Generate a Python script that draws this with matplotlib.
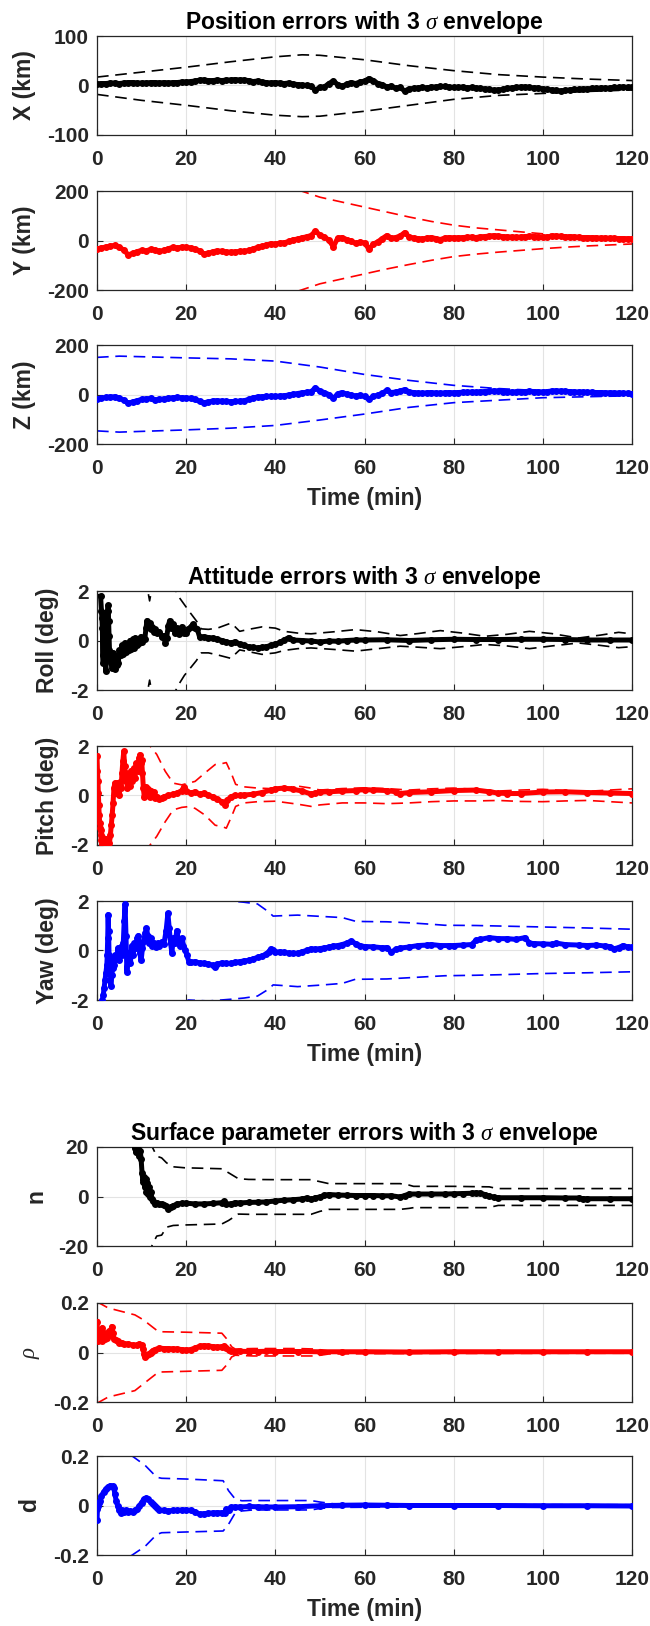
import matplotlib
matplotlib.use("Agg")
import matplotlib.pyplot as plt
from matplotlib.ticker import FormatStrFormatter

plt.rcParams['font.family'] = ['Liberation Sans', 'DejaVu Sans']
plt.rcParams['font.weight'] = 'bold'
plt.rcParams['axes.labelweight'] = 'bold'
plt.rcParams['axes.unicode_minus'] = False
plt.rcParams['mathtext.fontset'] = 'custom'
plt.rcParams['mathtext.it'] = 'Liberation Serif:italic:normal'
plt.rcParams['mathtext.rm'] = 'Liberation Sans:normal'
plt.rcParams['mathtext.bf'] = 'Liberation Sans:bold'

# ---------------- position errors (km), one sample per minute ----------------
t_pos = list(range(0, 121))
x_err = [3, 4, 4, 5, 5, 4, 5, 6, 6, 5, 5,
         5, 6, 6, 5, 6, 5, 6, 6, 7, 7,
         8, 9, 11, 11, 10, 10, 11, 10, 11, 11,
         12, 11, 11, 10, 8, 9, 7, 6, 5, 6,
         5, 4, 5, 3, 2, 1, 0, -2, -9, -4,
         -3, 4, 9, 2, -2, 3, 6, 4, 7, 9,
         14, 10, 4, 2, -3, -1, -6, -4, -11, -7,
         -6, -5, -4, -5, -3, -3, -2, -2, -3, -4,
         -4, -3, -5, -4, -5, -6, -7, -8, -10, -9,
         -8, -6, -5, -4, -3, -3, -4, -5, -5, -7,
         -8, -9, -10, -11, -10, -9, -8, -8, -7, -7,
         -6, -6, -5, -6, -5, -4, -4, -3, -4, -3]
y_err = [-34, -30, -26, -22, -20, -28, -38, -58, -52, -45, -40,
         -42, -36, -38, -44, -40, -33, -28, -30, -27, -27,
         -30, -35, -42, -54, -52, -45, -42, -44, -46, -47,
         -46, -44, -44, -40, -34, -28, -24, -18, -13, -15,
         -10, -9, -4, 3, 6, 11, 15, 20, 38, 22,
         14, 2, -25, 10, 12, 4, -2, -12, -6, -10,
         -34, -15, -5, 8, 20, 10, 12, 18, 32, 15,
         10, 8, 6, 10, 12, 8, 4, 10, 12, 11,
         11, 12, 13, 14, 12, 15, 16, 18, 20, 18,
         16, 15, 14, 13, 14, 16, 17, 16, 15, 14,
         15, 17, 18, 17, 16, 15, 14, 13, 12, 12,
         11, 11, 10, 10, 9, 9, 8, 8, 7, 7]
z_err = [-20, -15, -12, -10, -9, -14, -23, -35, -30, -25, -20,
         -18, -16, -23, -20, -18, -15, -13, -12, -13, -14,
         -16, -20, -28, -33, -30, -26, -25, -27, -28, -29,
         -28, -27, -25, -20, -14, -10, -9, -8, -7, -8,
         -6, -5, -2, 1, 4, 7, 9, 11, 27, 14,
         8, 0, -16, 3, 8, 2, -2, -6, -4, -8,
         -20, -8, -2, 5, 17, 8, 10, 14, 20, 10,
         8, 6, 5, 7, 8, 6, 5, 7, 8, 7,
         8, 9, 9, 10, 9, 11, 12, 13, 15, 13,
         12, 11, 10, 10, 11, 12, 13, 12, 11, 10,
         12, 14, 15, 14, 13, 12, 11, 10, 10, 9,
         9, 8, 8, 7, 7, 6, 6, 5, 5, 4]

x_env_t = [0, 10, 20, 30, 40, 46, 50, 60, 70, 80, 90, 100, 110, 120]
x_env_up = [17, 27, 37, 48, 58, 62, 61, 52, 40, 30, 22, 17, 13, 10]
x_env_lo = [-18, -30, -40, -51, -60, -63, -62, -52, -40, -28, -20, -16, -12, -9]

y_env_t = [45, 50, 55, 60, 65, 70, 75, 80, 85, 90, 95, 100, 105, 110, 115, 120]
y_env_up = [205, 175, 155, 135, 115, 95, 77, 62, 51, 43, 35, 27, 22, 18, 15, 12]
y_env_lo = [-205, -175, -155, -135, -115, -97, -80, -65, -55, -47, -40, -33, -27, -22, -18, -14]

z_env_t = [0, 5, 20, 30, 40, 50, 60, 70, 80, 90, 100, 110, 120]
z_env_up = [150, 155, 148, 144, 135, 111, 81, 57, 37, 24, 15, 11, 7]
z_env_lo = [-147, -152, -143, -136, -125, -103, -79, -52, -33, -23, -13, -9, -5]

# ---------------- attitude errors (deg) ----------------
roll_t = [0.8, 1.0, 1.1, 1.2, 1.3, 1.4, 1.5, 1.6, 1.7, 1.8, 2.0, 2.2, 2.4, 2.5, 2.6, 2.7,
          2.8, 3.0, 3.2, 3.4, 3.6, 3.8, 4.0, 4.2, 4.4, 4.6, 4.8, 5.0, 5.3, 5.6, 5.9, 6.2,
          6.5, 6.8, 7.1, 7.4, 7.7, 8.0, 8.3, 8.6, 8.9, 9.2, 9.5, 9.8, 10.1, 10.4, 10.7,
          11.0, 11.2, 11.5, 11.8, 12.1, 12.4, 12.7, 13.0, 13.5, 14.0, 14.5, 15.0, 15.3,
          15.6, 16.0, 16.3, 16.6, 17.0, 17.5, 18.0, 18.5, 19.0, 19.5, 20.0, 20.5, 21.0,
          21.5, 22.0, 22.5, 23, 24, 25, 26, 27, 28, 29, 30, 31, 32, 33, 34, 35, 36, 37,
          38, 39, 40, 41, 42, 43, 44, 46, 48, 50, 52, 54, 56, 58, 60, 65, 70, 75, 80, 85,
          90, 95, 100, 105, 110, 115, 120]
roll_err = [1.79, 1.2, 0.9, 0.5, -0.6, -0.9, 1.1, 0.7, -0.3, -0.8, -1.25, 0.3, 1.2, 1.42, 0.8, 0.2,
            -0.4, -0.7, -0.9, -1.1, -0.5, -0.8, -1.15, -0.7, -1.0, -0.6, -0.9, -0.4, -0.6, -0.2, -0.55, -0.1,
            -0.45, -0.15, -0.4, 0.0, -0.35, 0.05, -0.3, 0.1, -0.2, 0.05, -0.1, 0.15, -0.05, 0.1, 0.05,
            0.5, 0.8, 0.55, 0.7, 0.45, 0.55, 0.35, 0.45, 0.3, 0.35, 0.15, 0.2, -0.1,
            0.1, 0.6, 0.8, 0.5, 0.65, 0.3, 0.5, 0.25, 0.55, 0.3, 0.3, 0.45, 0.55,
            0.65, 0.5, 0.45, 0.15, 0.15, 0.12, 0.1, 0.05, 0.0, -0.05, -0.1, -0.05, -0.15, -0.2, -0.25, -0.28, -0.3, -0.28,
            -0.25, -0.2, -0.15, -0.08, 0.02, 0.12, 0.02, 0.0, -0.02, -0.06, -0.02, -0.03, 0.0, 0.02, 0.02, 0.03, 0.0, 0.03, 0.05, 0.04,
            0.04, 0.05, 0.05, 0.04, 0.02, 0.02, 0.02]
roll_env_t = [10.8, 11.8, 12.8, 14.5, 17.7, 18.6, 19.6, 21.0, 22.3, 23.4, 25, 27, 28.5, 30, 31, 32,
              34, 37, 40, 42, 45, 48, 53, 58, 63, 68, 72, 77, 82, 87, 92, 97, 102, 108, 113, 117, 120]
roll_env_up = [2.6, 1.6, 2.6, 2.8, 2.0, 1.7, 1.45, 1.1, 0.79, 0.47, 0.45, 0.5, 0.6, 0.7, 0.55, 0.37,
               0.45, 0.55, 0.5, 0.37, 0.3, 0.27, 0.35, 0.44, 0.35, 0.2, 0.28, 0.4, 0.3, 0.17, 0.25, 0.37, 0.28, 0.1, 0.22, 0.33, 0.27]
roll_env_lo = [-2.6, -1.6, -2.6, -2.8, -2.0, -1.7, -1.41, -1.1, -0.81, -0.5, -0.5, -0.58, -0.65, -0.72, -0.55, -0.38,
               -0.45, -0.56, -0.5, -0.4, -0.33, -0.3, -0.36, -0.43, -0.33, -0.23, -0.27, -0.33, -0.25, -0.16, -0.22, -0.33, -0.22, -0.1, -0.2, -0.29, -0.25]

pitch_t = [0.0, 0.1, 0.2, 0.3, 0.4, 0.5, 0.6, 0.7, 0.8, 0.9, 1.0, 1.2, 1.4, 1.6, 1.8, 2.0, 2.2, 2.5,
           2.8, 3.0, 3.2, 3.4, 3.6, 3.8, 4.0, 4.2, 4.4, 4.6, 4.8, 5.0, 5.2, 5.4, 5.6, 5.8, 6.0, 6.2,
           6.4, 6.6, 6.8, 7.0, 7.3, 7.6, 7.9, 8.2, 8.5, 8.8, 9.1, 9.4, 9.6, 9.8, 10.0, 10.2, 10.4,
           10.6, 10.8, 11.0, 11.2, 11.5, 11.8, 12.1, 12.4, 12.7, 13.0, 13.5, 14, 14.5, 15, 16, 17,
           18, 19, 19.5, 20, 21, 22, 23, 24, 25, 26, 27, 28, 28.8, 29.2, 30, 31, 32, 33, 35, 37,
           39, 40, 42, 44, 46, 48, 49, 50, 52, 55, 58, 60, 62, 65, 67, 68, 70, 75, 80, 85, 88, 90,
           92, 95, 100, 105, 110, 115, 120]
pitch_err = [1.6, 1.0, 0.6, 0.1, -0.4, -0.8, -1.1, -1.3, -1.4, -1.6, -1.8, -1.95, -1.7, -1.85, -2.0, -1.75, -1.9, -2.05,
             -1.9, -1.6, -1.2, -0.8, -0.3, 0.3, 0.5, 0.1, 0.5, 0.2, 0.45, 0.0, 0.55, 0.3, 0.9, 1.4, 1.78, 1.2,
             0.6, 0.9, 0.3, 0.8, 0.4, 1.0, 0.6, 1.1, 0.7, 1.3, 1.0, 1.5, 1.65, 1.3, 1.45, 0.9, 0.3,
             -0.05, 0.2, 0.35, 0.0, 0.25, -0.05, 0.2, 0.0, 0.15, -0.1, -0.05, -0.15, -0.12, -0.05, 0.0, 0.05,
             0.1, 0.2, 0.35, 0.2, 0.1, 0.15, 0.05, 0.1, 0.0, -0.05, -0.15, -0.25, -0.4, -0.2, -0.05, 0.0, 0.0, 0.02, 0.05, 0.12,
             0.22, 0.27, 0.3, 0.25, 0.18, 0.06, 0.1, 0.14, 0.15, 0.18, 0.2, 0.24, 0.22, 0.2, 0.15, 0.08, 0.12, 0.15, 0.2, 0.22, 0.15, 0.1,
             0.08, 0.08, 0.14, 0.15, 0.12, 0.1, 0.08]
pitch_env_t = [11.5, 11.9, 13.4, 15.3, 17.1, 19.0, 20.5, 22.0, 24.2, 26.5, 28.3, 29.0, 30.2, 31.1, 33, 36,
               40, 45, 48, 50, 55, 60, 65, 70, 75, 80, 85, 90, 95, 100, 105, 110, 115, 120]
pitch_env_up = [2.4, 2.0, 1.66, 0.98, 0.5, 0.43, 0.5, 0.57, 0.91, 1.25, 1.3, 1.33, 0.86, 0.45, 0.35, 0.3,
                0.27, 0.38, 0.3, 0.22, 0.28, 0.31, 0.28, 0.22, 0.27, 0.3, 0.25, 0.18, 0.22, 0.25, 0.2, 0.17, 0.22, 0.27]
pitch_env_lo = [-2.4, -2.0, -1.65, -1.06, -0.58, -0.48, -0.45, -0.52, -0.79, -1.2, -1.27, -1.32, -0.84, -0.44, -0.3, -0.25,
                -0.23, -0.35, -0.44, -0.38, -0.3, -0.3, -0.33, -0.3, -0.25, -0.22, -0.22, -0.2, -0.24, -0.25, -0.22, -0.2, -0.25, -0.3]

yaw_t = [1.2, 1.4, 1.6, 1.8, 2.0, 2.2, 2.3, 2.4, 2.5, 2.6, 2.7, 2.9, 3.1, 3.3, 3.5, 3.7, 3.9, 4.1,
         4.4, 4.7, 5.0, 5.3, 5.6, 5.9, 6.1, 6.3, 6.5, 6.7, 6.9, 7.2, 7.5, 7.8, 8.1, 8.4, 8.7, 9.0,
         9.3, 9.6, 9.9, 10.2, 10.5, 10.8, 11.1, 11.4, 11.7, 12.0, 12.4, 12.8, 13.2, 13.6, 14.0,
         14.5, 15.0, 15.5, 15.9, 16.2, 16.5, 16.8, 17.1, 17.5, 17.9, 18.3, 18.7, 19.1, 19.4, 19.8,
         20.2, 20.6, 21, 22, 23, 24, 25, 26, 26.5, 27, 28, 29, 30, 31, 32, 33, 34, 35, 36, 37, 38,
         38.5, 39, 39.5, 40, 41, 42, 43, 44, 45, 46, 47, 48, 49, 50, 51, 52, 53, 54, 55, 56, 57,
         58, 59, 60, 62, 64, 65, 66, 67, 68, 70, 72, 74, 75, 77, 79, 80, 82, 84, 85, 86, 88, 90,
         92, 94, 96, 97, 98, 100, 102, 103, 105, 108, 110, 112, 114, 115, 116, 117, 118, 119, 120]
yaw_err = [-2.0, -1.8, -1.5, -1.2, -0.9, -0.6, -0.2, 0.5, 1.45, 0.8, -0.2, -0.3, -1.45, -1.0, -0.7, -0.4, -0.6, -0.2,
           -0.3, 0.1, -0.4, 0.15, -0.2, 0.3, 1.2, 1.86, 0.6, -0.85, -0.4, -0.1, -0.5, 0.2, -0.2, 0.3, 0.1, 0.5,
           0.6, -0.1, -0.4, 0.1, 0.4, 0.7, 0.9, 0.6, 0.3, 0.5, 0.2, 0.3, 0.15, 0.3, 0.2,
           0.35, 0.25, 0.8, 1.5, 0.9, 0.3, -0.1, 0.5, 0.3, 0.8, 0.4, 0.2, 0.5, 0.2, 0.0,
           -0.2, -0.45, -0.48, -0.45, -0.5, -0.52, -0.54, -0.6, -0.65, -0.55, -0.5, -0.52, -0.52, -0.48, -0.45, -0.42, -0.4, -0.34, -0.28, -0.22, -0.14,
           -0.05, 0.07, 0.0, -0.07, -0.05, -0.08, -0.1, -0.12, -0.11, -0.05, 0.0, 0.07, 0.05, 0.08, 0.1, 0.14, 0.18, 0.2, 0.24, 0.3, 0.38,
           0.28, 0.2, 0.16, 0.15, 0.11, 0.12, -0.07, 0.05, 0.1, 0.14, 0.2, 0.22, 0.24, 0.2, 0.2, 0.2, 0.22, 0.24, 0.41, 0.45, 0.52, 0.48,
           0.48, 0.45, 0.52, 0.3, 0.28, 0.27, 0.25, 0.3, 0.24, 0.22, 0.2, 0.22, 0.18, 0.16, 0.07, 0.12, 0.2, 0.15, 0.14]
yaw_env_t = [19.5, 20.5, 25, 30, 33, 36, 38.5, 39.5, 42, 45, 50, 55, 58, 60, 65, 70, 75, 78, 85, 90, 100, 110, 120]
yaw_env_up = [2.1, 2.0, 2.02, 2.0, 1.95, 1.88, 1.56, 1.39, 1.41, 1.43, 1.38, 1.33, 1.18, 1.17, 1.16, 1.12, 1.06, 1.02, 1.01, 0.99, 0.95, 0.91, 0.86]
yaw_env_lo = [-2.1, -2.0, -2.04, -1.97, -1.92, -1.84, -1.56, -1.39, -1.42, -1.46, -1.4, -1.33, -1.16, -1.16, -1.15, -1.1, -1.05, -1.02, -1.0, -0.98, -0.93, -0.9, -0.86]

# ---------------- surface parameter errors ----------------
n_t = [8.5, 8.7, 8.9, 9.1, 9.3, 9.5, 9.7, 9.9, 10.1, 10.3, 10.5, 10.7, 10.9, 11.1, 11.3, 11.5, 11.7, 11.9,
       12.1, 12.3, 12.6, 13.0, 13.5, 14, 14.5, 15, 15.5, 16, 16.5, 17, 18, 19, 20, 22, 24, 26, 28, 28.5,
       29, 30, 31, 32, 34, 36, 38, 40, 42, 44, 46, 47, 48, 49, 50, 51, 52, 54, 56, 58, 60, 62, 64, 66,
       68, 69, 70, 72, 75, 78, 80, 82, 84, 85, 86, 87, 88, 89, 90, 95, 100, 105, 108, 109, 110, 115, 120]
n_err = [19.5, 18.0, 20.0, 17.5, 19.0, 16.5, 18.5, 15.0, 9.6, 6.0, 8.0, 4.0, 7.0, 2.0, 5.5, 1.0, 4.0, 0.0,
         2.0, -1.0, -2.0, -3.0, -2.5, -3.2, -3.0, -3.5, -4.0, -5.0, -4.2, -3.8, -3.0, -2.8, -2.7, -3.0, -3.0, -2.8, -2.5, -2.0,
         -3.0, -3.0, -2.5, -2.6, -2.4, -2.3, -2.2, -1.8, -1.5, -1.3, -1.0, -0.6, -1.2, -0.5, -0.2, 0.5, 0.8, 0.6, 0.5, 0.4, 0.4, 0.4, 0.3, 0.3,
         -0.2, 0.4, 1.0, 1.0, 1.0, 1.0, 1.1, 1.2, 1.3, 1.5, 1.3, 0.8, 0.2, -0.3, -0.5, -0.5, -0.5, -0.6, -0.6, -0.9, -0.9, -0.9, -0.9]
n_env_t = [11.5, 12.4, 13.4, 14.5, 15.6, 17.1, 19.7, 24, 28, 29.5, 31.7, 34, 40, 48, 50, 52, 60, 68, 70, 71,
           80, 88, 89, 90, 100, 110, 120]
n_env_up = [22, 20, 16.3, 15.6, 13.6, 12.0, 11.6, 11.4, 11.2, 9.6, 7.2, 6.9, 6.8, 6.8, 6.0, 5.2, 5.2, 5.2, 4.6, 4.1,
            4.1, 3.9, 3.5, 3.2, 3.2, 3.2, 3.2]
n_env_lo = [-24, -19.5, -16.0, -15.6, -12.4, -11.7, -11.5, -11.3, -11.1, -9.7, -7.1, -7.2, -7.2, -7.2, -6.0, -5.2, -5.2, -5.2, -4.8, -4.5,
            -4.5, -4.5, -4.0, -3.6, -3.6, -3.6, -3.6]

rho_t = [0.0, 0.1, 0.2, 0.3, 0.5, 0.7, 0.9, 1.1, 1.2, 1.4, 1.6, 1.8, 2.0, 2.3, 2.6, 2.9, 3.1, 3.3, 3.5,
         3.8, 4.2, 4.6, 5.0, 5.5, 6, 7, 8, 9, 9.5, 10, 10.3, 10.6, 10.8, 11.2, 11.6, 12, 12.5, 13, 14,
         15, 16, 17, 18, 19, 20, 21, 22, 23, 24, 25, 26, 27, 28, 28.5, 29, 29.5, 30, 31, 32, 34, 36,
         38, 40, 45, 50, 55, 60, 70, 80, 90, 100, 110, 120]
rho_err = [0.125, 0.09, 0.06, 0.045, 0.075, 0.05, 0.065, 0.045, 0.1, 0.06, 0.08, 0.055, 0.075, 0.06, 0.085, 0.07, 0.09, 0.105, 0.08,
           0.055, 0.05, 0.045, 0.04, 0.04, 0.035, 0.035, 0.03, 0.03, 0.035, 0.03, 0.015, -0.005, -0.018, -0.012, -0.005, 0.0, 0.008, 0.012, 0.018,
           0.016, 0.016, 0.015, 0.014, 0.012, 0.01, 0.012, 0.018, 0.025, 0.028, 0.026, 0.024, 0.022, 0.024, 0.026, 0.02, 0.012, 0.006, 0.004, 0.005, 0.004, 0.004,
           0.005, 0.004, 0.004, 0.003, 0.003, 0.003, 0.002, 0.003, 0.003, 0.003, 0.003, 0.003]
rho_env_t = [0.0, 2.5, 8.5, 10.4, 12.3, 13.8, 20, 28, 29, 30.2, 31, 35, 45, 49, 52, 60, 70, 120]
rho_env_up = [0.205, 0.18, 0.152, 0.132, 0.105, 0.084, 0.082, 0.078, 0.057, 0.023, 0.014, 0.016, 0.016, 0.014, 0.006, 0.005, 0.004, 0.003]
rho_env_lo = [-0.205, -0.18, -0.154, -0.127, -0.1, -0.079, -0.076, -0.072, -0.052, -0.018, -0.011, -0.014, -0.014, -0.014, -0.006, -0.005, -0.004, -0.003]

d_t = [0.0, 0.1, 0.2, 0.4, 0.7, 1.0, 1.5, 2.0, 2.5, 3.0, 3.5, 3.8, 4.0, 4.3, 4.6, 5.0, 5.3, 5.6, 6.0,
       6.5, 7.0, 7.5, 8.0, 8.5, 9.0, 9.5, 10.0, 10.5, 11.0, 11.5, 12.0, 12.5, 13.0, 13.5, 14.0, 15, 16,
       17, 18, 19, 20, 21, 22, 23, 24, 25, 26, 27, 28, 28.8, 29, 29.5, 30, 31, 32, 34, 36, 38, 40, 45,
       50, 55, 60, 65, 70, 80, 90, 100, 110, 120]
d_err = [-0.06, -0.015, 0.0, 0.012, 0.02, 0.04, 0.055, 0.067, 0.075, 0.08, 0.078, 0.07, 0.046, 0.02, 0.0, -0.02, -0.03, -0.02, -0.025,
         -0.02, -0.028, -0.022, -0.025, -0.02, -0.015, -0.002, 0.012, 0.025, 0.03, 0.025, 0.015, 0.008, 0.0, -0.01, -0.018, -0.02, -0.022,
         -0.02, -0.02, -0.018, -0.018, -0.02, -0.025, -0.035, -0.033, -0.031, -0.03, -0.029, -0.029, -0.03, -0.015, -0.02, -0.008, -0.006, -0.006, -0.004, -0.005, -0.006, -0.006, -0.005,
         -0.001, 0.001, 0.002, 0.001, 0.0, 0.0, 0.0, -0.001, -0.001, -0.002]
d_env_t = [7.5, 10.8, 13.4, 14.5, 20, 28.3, 29.5, 31, 32.5, 35, 48, 50, 53, 60, 120]
d_env_up = [0.205, 0.162, 0.114, 0.11, 0.107, 0.1, 0.06, 0.026, 0.019, 0.02, 0.02, 0.014, 0.007, 0.004, 0.003]
d_env_lo = [-0.205, -0.165, -0.117, -0.11, -0.107, -0.103, -0.076, -0.03, -0.022, -0.018, -0.018, -0.012, -0.008, -0.007, -0.004]

titles = ['Position errors with 3 $\\sigma$ envelope',
          'Attitude errors with 3 $\\sigma$ envelope',
          'Surface parameter errors with 3 $\\sigma$ envelope']

panels = [
    ('X (km)', t_pos, x_err, x_env_t, x_env_up, x_env_lo, 100, 'k'),
    ('Y (km)', t_pos, y_err, y_env_t, y_env_up, y_env_lo, 200, 'r'),
    ('Z (km)', t_pos, z_err, z_env_t, z_env_up, z_env_lo, 200, 'b'),
    ('Roll (deg)', roll_t, roll_err, roll_env_t, roll_env_up, roll_env_lo, 2, 'k'),
    ('Pitch (deg)', pitch_t, pitch_err, pitch_env_t, pitch_env_up, pitch_env_lo, 2, 'r'),
    ('Yaw (deg)', yaw_t, yaw_err, yaw_env_t, yaw_env_up, yaw_env_lo, 2, 'b'),
    ('n', n_t, n_err, n_env_t, n_env_up, n_env_lo, 20, 'k'),
    ('$\\rho$', rho_t, rho_err, rho_env_t, rho_env_up, rho_env_lo, 0.2, 'r'),
    ('d', d_t, d_err, d_env_t, d_env_up, d_env_lo, 0.2, 'b'),
]

W, H = 650, 1626
tops = [36, 191, 345, 591, 746, 901, 1147, 1303, 1456]
ax_h = 99
left, right = 97, 632
txt = '#262626'

fig = plt.figure(figsize=(W / 100, H / 100), dpi=100)
for i, (lab, t, v, et, eu, el, lim, c) in enumerate(panels):
    ax = fig.add_axes([left / W, 1 - (tops[i] + ax_h) / H, (right - left) / W, ax_h / H])
    # 3 sigma envelope
    ax.plot(et, eu, color=c, lw=1.2, ls=(0, (7, 4)))
    ax.plot(et, el, color=c, lw=1.2, ls=(0, (7, 4)))
    # estimation error
    ax.plot(t, v, color=c, lw=3.6, marker='.', ms=8, zorder=3)
    ax.set_xlim(0, 120)
    ax.set_ylim(-lim, lim)
    ax.set_xticks([0, 20, 40, 60, 80, 100, 120])
    ax.set_yticks([-lim, 0, lim])
    ax.yaxis.set_major_formatter(FormatStrFormatter('%g'))
    ax.grid(True, color='#e3e3e3', lw=0.8)
    ax.set_axisbelow(True)
    for s in ax.spines.values():
        s.set_color(txt)
        s.set_linewidth(0.9)
    ax.tick_params(direction='in', length=4, width=0.8, colors=txt, labelsize=15)
    ax.tick_params(axis='x', pad=11)
    ax.tick_params(axis='y', pad=6)
    ax.set_ylabel(lab, fontsize=16.5, color=txt, labelpad=8, fontweight='bold')
    if i % 3 == 0:
        ax.set_title(titles[i // 3], fontsize=16.5, color='k', pad=2, fontweight='bold')
    if i % 3 == 2:
        ax.set_xlabel('Time (min)', fontsize=16.5, color=txt, labelpad=6, fontweight='bold')

fig.savefig('out.png', dpi=100)
